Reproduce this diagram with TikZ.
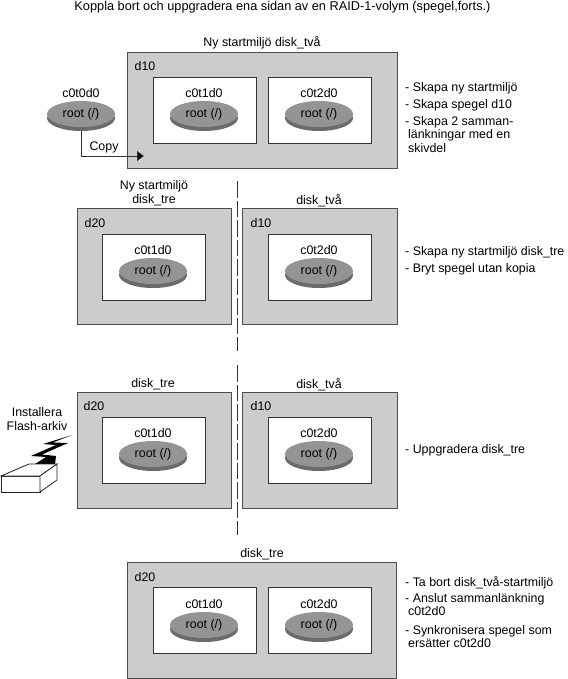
\documentclass[tikz,border=0pt]{standalone}
\usepackage{fontspec}
\setmainfont{Liberation Sans}
\usetikzlibrary{shapes.geometric,arrows.meta}
\tikzset{
    panel/.style={draw=black!70, fill=black!20, line width=0.8pt, minimum width=#1, minimum height=116pt, inner sep=0pt},
    inner/.style={draw=black!80, fill=white, line width=0.8pt, minimum width=103pt, minimum height=66pt, inner sep=0pt},
    disktop/.style={ellipse, fill=black!42, minimum width=68pt, minimum height=26pt, inner sep=0pt, font=\fontsize{12.4}{14}\selectfont},
    diskside/.style={ellipse, fill=black!58, minimum width=68pt, minimum height=26pt, inner sep=0pt},
    txt/.style={font=\fontsize{12.4}{14}\selectfont, inner sep=0pt, align=center, yshift=-1.5pt},
    item/.style={font=\fontsize{12.4}{13.5}\selectfont, inner sep=0pt, anchor=north west, align=left, yshift=-1pt},
    divider/.style={draw=black!80, line width=0.8pt, dash pattern=on 16.5pt off 3pt},
    boxline/.style={draw=black!85, fill=white, line width=0.8pt}
}
\begin{document}
\begin{tikzpicture}[x=1pt, y=-1pt]
    \useasboundingbox (0,0) rectangle (567,679);

    % rubrik
    \node[txt, font=\fontsize{12.75}{14}\selectfont] (title) at (282.5,6) {Koppla bort och uppgradera ena sidan av en RAID-1-volym (spegel,forts.)};

    % steg 1
    \node[txt] (name1) at (262,41) {Ny startmiljö disk\_två};
    \node[panel=270pt] (p1) at (262,110) {};
    \node[txt] at (145,65) (d1) {d10};
    \node[inner] (a1) at (204.5,110) {};
    \node[inner] (b1) at (319.5,110) {};
    \node[txt] (n0) at (81,92) {c0t0d0};
    \node[diskside] (s0) at (81,118) {};
    \node[disktop] (r0) at (81,114) {root (/)};
    \node[txt] (n1) at (204,92) {c0t1d0};
    \node[diskside] at (204,118) (s1) {};
    \node[disktop] (r1) at (204,114) {root (/)};
    \node[txt] (n2) at (319,92) {c0t2d0};
    \node[diskside] at (319,118) (s2) {};
    \node[disktop] (r2) at (319,114) {root (/)};
    \coordinate (copyend) at (144,156);
    \draw[black!80, line width=0.8pt, -{Triangle[length=7pt,width=10pt,fill=black]}] (s0.south) |- (copyend);
    \node[txt] (copy) at (104,146) {Copy};
    \node[item] (t1a) at (405,81) {- Skapa ny startmiljö};
    \node[item] (t1b) at (405,98) {- Skapa spegel d10};
    \node[item] (t1c) at (405,115) {- Skapa 2 samman-\\\hspace{3pt}länkningar med en\\\hspace{3pt}skivdel};

    % steg 2
    \node[txt] (name2) at (154,192) {Ny startmiljö\\disk\_tre};
    \node[txt] (name3) at (319,199) {disk\_två};
    \node[panel=154pt] (p2) at (154,266) {};
    \node[panel=155pt] (p3) at (319.5,266) {};
    \node[txt] (d2) at (95,222) {d20};
    \node[txt] (d3) at (261,222) {d10};
    \node[inner] (a2) at (153.5,267) {};
    \node[inner] (b2) at (319.5,267) {};
    \node[txt] (n3) at (153,249) {c0t1d0};
    \node[diskside] (s3) at (153,275) {};
    \node[disktop] (r3) at (153,271) {root (/)};
    \node[txt] (n4) at (319,249) {c0t2d0};
    \node[diskside] (s4) at (319,275) {};
    \node[disktop] (r4) at (319,271) {root (/)};
    \node[item] (t2a) at (405,245) {- Skapa ny startmiljö disk\_tre};
    \node[item] (t2b) at (405,262) {- Bryt spegel utan kopia};

    % delning
    \coordinate (cut1) at (237,181);
    \coordinate (cut2) at (237,351);
    \coordinate (cut3) at (237,365);
    \coordinate (cut4) at (237,535);
    \draw[divider] (cut1) -- (cut2);
    \draw[divider] (cut3) -- (cut4);

    % steg 3
    \node[txt] (name4) at (153,383) {disk\_tre};
    \node[txt] (name5) at (319,383) {disk\_två};
    \node[panel=154pt] (p4) at (154,450) {};
    \node[panel=155pt] (p5) at (319.5,450) {};
    \node[txt] (d4) at (94,405) {d20};
    \node[txt] (d5) at (261,405) {d10};
    \node[inner] (a4) at (153.5,450) {};
    \node[inner] (b4) at (319.5,450) {};
    \node[txt] (n5) at (153,432) {c0t1d0};
    \node[diskside] (s5) at (153,458) {};
    \node[disktop] (r5) at (153,454) {root (/)};
    \node[txt] (n6) at (319,432) {c0t2d0};
    \node[diskside] (s6) at (319,458) {};
    \node[disktop] (r6) at (319,454) {root (/)};
    \node[txt] (flash) at (37,418) {Installera\\Flash-arkiv};
    \node[item] (t3a) at (405,443) {- Uppgradera disk\_tre};

    % blixt och låda
    \fill[black] (72,435) -- (43,444) -- (56,445) -- (31,456) -- (46,457) -- (35,464) -- (55,464) -- (56,456) -- (42,454.5) -- (68,443) -- (53,442.5) -- cycle;
    \draw[boxline] (1,476) -- (40,476) -- (40,492) -- (1,492) -- cycle;
    \draw[boxline] (1,476) -- (29,464) -- (57,464) -- (40,476) -- cycle;
    \draw[boxline] (40,476) -- (57,464) -- (57,480) -- (40,492) -- cycle;

    % steg 4
    \node[txt] (name6) at (262,553) {disk\_tre};
    \node[panel=269pt] (p6) at (262,620.5) {};
    \node[txt] (d6) at (145,576) {d20};
    \node[inner] (a6) at (204.5,620.5) {};
    \node[inner] (b6) at (319.5,620.5) {};
    \node[txt] (n7) at (204,603) {c0t1d0};
    \node[diskside] (s7) at (204,629) {};
    \node[disktop] (r7) at (204,625) {root (/)};
    \node[txt] (n8) at (319,603) {c0t2d0};
    \node[diskside] (s8) at (319,629) {};
    \node[disktop] (r8) at (319,625) {root (/)};
    \node[item] (t4a) at (405,575) {- Ta bort disk\_två-startmiljö};
    \node[item] (t4b) at (405,592) {- Anslut sammanlänkning\\\hspace{3pt}c0t2d0};
    \node[item] (t4c) at (405,624) {- Synkronisera spegel som\\\hspace{3pt}ersätter c0t2d0};
\end{tikzpicture}
\end{document}
